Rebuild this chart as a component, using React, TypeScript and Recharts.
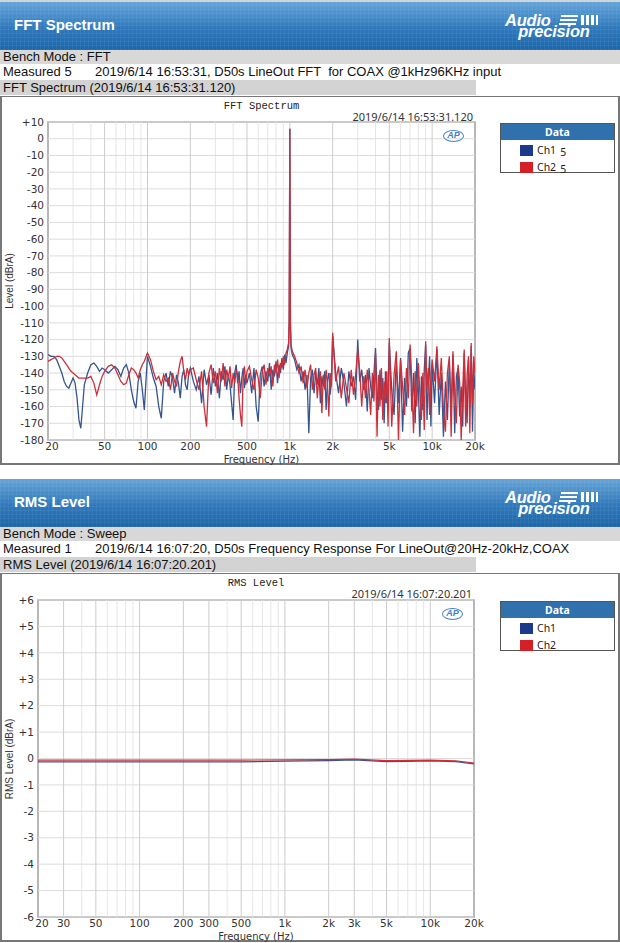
import React from 'react';
import { ComposedChart, Line, XAxis, YAxis, ReferenceLine, ReferenceArea } from 'recharts';

// ---------- FFT Spectrum data ----------
const fftFreq = [
  20, 21, 22, 23, 24, 25, 26, 27, 28, 29, 30, 31, 32, 33, 34, 35, 36,
  38, 40, 42, 44, 46, 48, 50,
  53, 56, 59, 62, 65, 68, 71, 74, 77, 80, 83, 86, 89, 92, 95, 98, 100,
  105, 110, 115, 120, 125, 130, 135, 140, 145, 150, 155, 160, 165, 170, 175, 180, 185, 190, 195, 200,
  210, 220, 230, 240, 250, 260, 270, 280, 290, 300, 310, 320, 330, 340, 350, 360, 370, 380, 390, 400,
  410, 420, 430, 440, 450, 460, 470, 480, 490, 500,
  520, 540, 560, 580, 600, 620, 640, 660, 680, 700, 720, 740, 760, 780, 800, 820, 840, 860, 880, 900, 920, 940,
  960, 980, 990, 1000, 1010, 1020, 1040,
  1080, 1120, 1160, 1200, 1240, 1280, 1320, 1360, 1400, 1440, 1480, 1520, 1560, 1600, 1640, 1680, 1720, 1760, 1800, 1840, 1880, 1920, 1960,
  2000,
  2100, 2200, 2300, 2400, 2500, 2600, 2700, 2800, 2900, 3000, 3100, 3200, 3300, 3400, 3500, 3600, 3700, 3800, 3900, 4000,
  4100, 4200, 4300, 4400, 4500, 4600, 4700, 4800, 4900,
  5000,
  5200, 5400, 5600, 5800, 6000, 6200, 6400, 6600, 6800, 7000, 7200, 7400, 7600, 7800, 8000, 8200, 8400, 8600, 8800, 9000,
  9200, 9400, 9600, 9800,
  10000,
  10400, 10800, 11200, 11600, 12000, 12400, 12800, 13200, 13600, 14000, 14400, 14800, 15200, 15600, 16000, 16400, 16800,
  17200, 17600, 18000, 18400, 18800, 19200, 19600,
  20000,
];

const fftCh1 = [
  -129, -130, -130, -132, -136, -140, -145, -148, -149, -146, -143, -146, -155, -168, -173, -160, -147,
  -140, -135, -134, -136, -139, -137, -138,
  -140, -138, -136, -138, -142, -137, -135, -140, -150, -157, -161, -145, -140, -150, -162, -142, -130,
  -136, -143, -148, -160, -167, -145, -140, -148, -139, -143, -152, -141, -146, -155, -142, -138, -147, -150, -140, -137,
  -145, -150, -142, -158, -138, -147, -141, -153, -137, -148, -140, -155, -139, -144, -136, -150, -141, -147, -158, -168,
  -140, -135, -146, -139, -152, -143, -137, -149, -141, -146,
  -140, -152, -137, -160, -169, -141, -136, -148, -139, -145, -134, -150, -138, -142, -133, -146, -135, -140, -131, -138, -129, -134,
  -128, -124, -110, 6, -112, -125, -129,
  -132, -138, -135, -145, -139, -150, -141, -176, -143, -138, -152, -140, -147, -137, -158, -142, -148, -139, -162, -144, -140, -153, -145,
  -118,
  -140, -152, -137, -146, -160, -139, -148, -142, -156, -120, -145, -138, -150, -141, -163, -137, -148, -155, -140, -125,
  -150, -162, -138, -156, -143, -170, -139, -158, -147,
  -122,
  -150, -165, -132, -158, -131, -175, -143, -160, -128, -125, -163, -140, -170, -131, -150, -178, -142, -162, -138, -123,
  -168, -145, -130, -172,
  -135,
  -158, -126, -165, -140, -178, -145, -168, -133, -160, -129, -176, -142, -137, -166, -148, -172, -128,
  -155, -170, -132, -160, -124, -175, -138,
  -150,
];

const fftCh2 = [
  -133, -132, -131, -130, -130, -131, -133, -135, -137, -139, -140, -141, -142, -143, -143, -143, -143,
  -143, -142, -146, -153, -147, -142, -139,
  -136, -135, -137, -141, -145, -147, -146, -141, -137, -138, -140, -143, -138, -135, -133, -130, -128,
  -132, -139, -144, -142, -147, -141, -145, -143, -150, -140, -145, -148, -139, -133, -130, -139, -144, -137, -141, -138,
  -137, -144, -150, -139, -160, -172, -140, -135, -146, -139, -152, -137, -145, -134, -148, -138, -143, -136, -149, -140,
  -146, -138, -141, -155, -165, -172, -142, -136, -147, -139,
  -136, -144, -150, -138, -143, -155, -139, -135, -147, -137, -142, -136, -148, -135, -140, -132, -143, -134, -137, -130, -135, -128,
  -126, -122, -108, 6, -110, -123, -127,
  -130, -134, -140, -136, -146, -138, -149, -140, -135, -150, -141, -137, -155, -143, -139, -164, -141, -150, -138, -147, -166, -140, -148,
  -116,
  -145, -136, -155, -140, -149, -158, -138, -153, -141, -126, -139, -160, -142, -155, -138, -150, -165, -140, -157, -128,
  -178, -141, -160, -137, -168, -145, -158, -139, -172,
  -119,
  -172, -141, -127, -180, -132, -148, -165, -137, -155, -123, -146, -176, -139, -160, -134, -152, -168, -140, -174, -121,
  -150, -137, -165, -143,
  -132,
  -145, -124, -150, -131, -162, -175, -140, -130, -178, -127, -152, -170, -135, -145, -180, -150, -126,
  -172, -141, -130, -176, -122, -158, -130,
  -140,
];

const fftXTicks = [20, 50, 100, 200, 500, 1000, 2000, 5000, 10000, 20000];
const fftMajorGrid = [50, 100, 200, 500, 1000, 2000, 5000, 10000];
const fftMinorGrid = [30, 40, 60, 70, 80, 90, 300, 400, 600, 700, 800, 900, 3000, 4000, 6000, 7000, 8000, 9000];
const fftYTicks = [10, 0, -10, -20, -30, -40, -50, -60, -70, -80, -90, -100, -110, -120, -130, -140, -150, -160, -170, -180];

// ---------- RMS Level data ----------
const rmsFreq = [20, 30, 50, 100, 200, 500, 1000, 2000, 3000, 5000, 7000, 10000, 15000, 20000];
const rmsCh1 = [-0.13, -0.13, -0.13, -0.13, -0.13, -0.13, -0.1, -0.08, -0.05, -0.12, -0.11, -0.09, -0.12, -0.2];
const rmsCh2 = [-0.06, -0.06, -0.06, -0.06, -0.06, -0.06, -0.05, -0.04, -0.02, -0.08, -0.07, -0.06, -0.09, -0.17];

const rmsXTicks = [20, 30, 50, 100, 200, 300, 500, 1000, 2000, 3000, 5000, 10000, 20000];
const rmsMajorGrid = [30, 50, 100, 200, 300, 500, 1000, 2000, 3000, 5000, 10000];
const rmsMinorGrid = [40, 60, 70, 80, 90, 400, 600, 700, 800, 900, 4000, 6000, 7000, 8000, 9000];
const rmsYTicks = [6, 5, 4, 3, 2, 1, 0, -1, -2, -3, -4, -5, -6];

const fftData = fftFreq.map((f, i) => ({ f, ch1: fftCh1[i], ch2: fftCh2[i] }));
const rmsData = rmsFreq.map((f, i) => ({ f, ch1: rmsCh1[i], ch2: rmsCh2[i] }));

const FONT_UI = '"Liberation Sans", Arial, sans-serif';
const FONT_AX = '"DejaVu Sans", Verdana, sans-serif';
const BLUE = '#34558f';
const RED = '#cc2f3a';

const fmtFreq = (v: number) => (v >= 1000 ? `${v / 1000}k` : `${v}`);
const fmtLevel = (v: number) => (v > 0 ? `+${v}` : `${v}`);

const XTick = (props: any) => {
  const { x, y, payload, index } = props;
  const dx = index === 0 ? 4 : 0;
  return (
    <text x={x + dx} y={y} dy="0.71em" textAnchor="middle" fontSize={10.5} fill="#333" fontFamily={FONT_AX}>
      {fmtFreq(payload.value)}
    </text>
  );
};

type PlotProps = {
  data: any[];
  xTicks: number[];
  majorGrid: number[];
  minorGrid: number[];
  yTicks: number[];
  yDomain: [number, number];
  yWidth: number;
  marginTop: number;
  marginRight: number;
  lineWidth: number;
};

function Plot({ data, xTicks, majorGrid, minorGrid, yTicks, yDomain, yWidth, marginTop, marginRight, lineWidth }: PlotProps) {
  return (
    <ComposedChart width={620} height={369} data={data} margin={{ top: marginTop, right: marginRight, bottom: 0, left: 0 }}>
      <XAxis
        dataKey="f"
        type="number"
        scale="log"
        domain={[20, 20000]}
        ticks={xTicks}
        interval={0}
        tickLine={false}
        axisLine={false}
        tickSize={0}
        tickMargin={3}
        height={25}
        tick={XTick}
        allowDataOverflow
      />
      <YAxis
        type="number"
        domain={yDomain}
        ticks={yTicks}
        interval={0}
        tickFormatter={fmtLevel}
        tickLine={false}
        axisLine={false}
        tickSize={0}
        tickMargin={4}
        width={yWidth}
        tick={{ fontSize: 10.5, fill: '#333', fontFamily: FONT_AX }}
        allowDataOverflow
      />
      {minorGrid.map((f) => (
        <ReferenceLine key={'mi' + f} x={f} stroke="#e6e6e6" strokeWidth={1} />
      ))}
      {yTicks.map((v) => (
        <ReferenceLine key={'h' + v} y={v} stroke="#dcdcdc" strokeWidth={1} />
      ))}
      {majorGrid.map((f) => (
        <ReferenceLine key={'ma' + f} x={f} stroke="#cccccc" strokeWidth={1} />
      ))}
      <Line dataKey="ch1" type="linear" stroke={BLUE} strokeWidth={lineWidth} dot={false} isAnimationActive={false} />
      <Line dataKey="ch2" type="linear" stroke={RED} strokeWidth={lineWidth} dot={false} isAnimationActive={false} />
      <ReferenceArea x1={20} x2={20000} y1={yDomain[0]} y2={yDomain[1]} fill="none" stroke="#a0a0a0" strokeWidth={1.5} />
    </ComposedChart>
  );
}

function Logo() {
  const bar = (l: number, t: number, w: number, h: number) => (
    <div style={{ position: 'absolute', left: l, top: t, width: w, height: h, background: '#fff' }} />
  );
  return (
    <div style={{ position: 'absolute', left: 500, top: 0, width: 110, height: 48 }}>
      <div style={{ position: 'absolute', left: 5, top: 13, color: '#fff', fontFamily: FONT_UI, fontStyle: 'italic', fontWeight: 'bold', fontSize: 16.5, lineHeight: '10.5px', whiteSpace: 'pre', letterSpacing: -0.2 }}>{'Audio\n   precision'}</div>
      {bar(61, 13, 17, 2)}
      {bar(60, 17, 17, 2)}
      {bar(59, 21, 17, 2)}
      {bar(81, 13, 3, 10)}
      {bar(86, 13, 3, 10)}
      {bar(91, 13, 2.5, 10)}
      {bar(95.5, 13, 2, 10)}
    </div>
  );
}

function ApBadge({ left, top }: { left: number; top: number }) {
  return (
    <div style={{ position: 'absolute', left, top, width: 21, height: 12, border: '1.5px solid #3f7fc4', borderRadius: '50%', boxSizing: 'border-box', color: '#3f7fc4', fontFamily: FONT_UI, fontStyle: 'italic', fontWeight: 'bold', fontSize: 9, lineHeight: '9px', textAlign: 'center' }}>AP</div>
  );
}

function LegendBox({ left, top, width, height, suffix }: { left: number; top: number; width: number; height: number; suffix: string }) {
  const row = (label: string, color: string, y: number) => (
    <div style={{ position: 'absolute', left: 19, top: y, height: 12, display: 'flex', alignItems: 'center' }}>
      <div style={{ width: 13, height: 11, background: color, marginRight: 4 }} />
      <span style={{ fontFamily: '"Noto Sans", sans-serif', fontSize: 10.5, color: '#222', lineHeight: '12px' }}>
        {label}
        {suffix ? <span style={{ position: 'relative', top: 2, marginLeft: 4 }}>{suffix}</span> : null}
      </span>
    </div>
  );
  return (
    <div style={{ position: 'absolute', left, top, width, height, border: '1.5px solid #555', boxSizing: 'border-box', background: '#fff' }}>
      <div style={{ height: 16, background: '#2f70ad', color: '#fff', fontFamily: '"Noto Sans", sans-serif', fontWeight: 'bold', fontSize: 10.5, lineHeight: '16px', textAlign: 'center' }}>Data</div>
      {row('Ch1', '#1b3a8c', 20)}
      {row('Ch2', '#d42027', 37)}
    </div>
  );
}

type PanelProps = {
  y0: number;
  title: string;
  bench: string;
  measuredId: string;
  measuredText: string;
  barText: string;
  chartTitle: string;
  stamp: string;
  yLabel: string;
  suffix: string;
  marginTop: number;
  plotLeft: number;
  plotRight: number;
  children: React.ReactNode;
};

function Panel(p: PanelProps) {
  const plotTop = p.y0 + 96 + p.marginTop;
  const plotBottom = p.y0 + 96 + 369 - 25;
  const cx = (p.plotLeft + p.plotRight) / 2;
  const cy = (plotTop + plotBottom) / 2;
  return (
    <>
      <div
        style={{
          position: 'absolute', left: 0, top: p.y0 + 2, width: 620, height: 48,
          backgroundImage:
            'repeating-linear-gradient(90deg, rgba(255,255,255,0.05) 0px, rgba(255,255,255,0.05) 1px, transparent 1px, transparent 4px), repeating-linear-gradient(0deg, rgba(255,255,255,0.05) 0px, rgba(255,255,255,0.05) 1px, transparent 1px, transparent 4px), linear-gradient(#64a4d8, #2f78bb 55%, #1d66a8)',
        }}
      >
        <div style={{ position: 'absolute', left: 14, top: 14, color: '#fff', fontFamily: FONT_UI, fontWeight: 'bold', fontSize: 15, lineHeight: '18px' }}>{p.title}</div>
        <Logo />
      </div>
      <div style={{ position: 'absolute', left: 0, top: p.y0 + 50, width: 620, height: 14, background: '#d8d8d8' }}>
        <div style={{ position: 'absolute', left: 3, top: 0, fontFamily: FONT_UI, fontSize: 13, lineHeight: '14px', color: '#111' }}>{p.bench}</div>
      </div>
      <div style={{ position: 'absolute', left: 3, top: p.y0 + 64, fontFamily: FONT_UI, fontSize: 13, lineHeight: '16px', color: '#111', whiteSpace: 'pre' }}>{p.measuredId}</div>
      <div style={{ position: 'absolute', left: 95, top: p.y0 + 64, fontFamily: FONT_UI, fontSize: 13, lineHeight: '16px', color: '#111', whiteSpace: 'pre' }}>{p.measuredText}</div>
      <div style={{ position: 'absolute', left: 0, top: p.y0 + 80, width: 476, height: 15, background: '#d3d3d3' }}>
        <div style={{ position: 'absolute', left: 3, top: 0, fontFamily: FONT_UI, fontSize: 13, lineHeight: '15px', color: '#111', whiteSpace: 'nowrap' }}>{p.barText}</div>
      </div>
      <div style={{ position: 'absolute', left: 0, top: p.y0 + 96, width: 620, height: 369, border: '2px solid #777', borderTopWidth: 1.5, boxSizing: 'border-box', background: '#fff' }} />
      <div style={{ position: 'absolute', left: 0, top: p.y0 + 96, width: 620, height: 369 }}>{p.children}</div>
      <div style={{ position: 'absolute', left: cx - 60, width: 120, top: p.y0 + 101, textAlign: 'center', fontFamily: '"Liberation Mono", monospace', fontSize: 10.5, lineHeight: '11px', color: '#222' }}>{p.chartTitle}</div>
      <div style={{ position: 'absolute', left: p.plotRight - 200, width: 198, top: p.y0 + 110, textAlign: 'right', fontFamily: '"Noto Sans", sans-serif', fontSize: 11, lineHeight: '14px', color: '#333' }}>{p.stamp}</div>
      <ApBadge left={p.plotRight - 32} top={plotTop + 8} />
      <LegendBox left={500} top={plotTop + 1} width={115} height={50} suffix={p.suffix} />
      <div style={{ position: 'absolute', left: 10 - 60, width: 120, top: cy - 6, height: 12, textAlign: 'center', transform: 'rotate(-90deg)', fontFamily: FONT_UI, fontSize: 10, lineHeight: '12px', color: '#333', whiteSpace: 'nowrap' }}>{p.yLabel}</div>
      <div style={{ position: 'absolute', left: cx - 60, width: 120, top: plotBottom + 14, textAlign: 'center', fontFamily: FONT_AX, fontSize: 10, lineHeight: '11px', color: '#333' }}>Frequency (Hz)</div>
    </>
  );
}

export default function App() {
  return (
    <div style={{ position: 'absolute', left: 0, top: 0, width: 620, height: 943, background: '#fff', overflow: 'hidden' }}>
      <div style={{ position: 'absolute', left: 0, top: 0, width: 620, height: 2, background: '#cdd6de' }} />
      <Panel
        y0={0}
        title="FFT Spectrum"
        bench="Bench Mode : FFT"
        measuredId="Measured 5"
        measuredText="2019/6/14 16:53:31, D50s LineOut FFT  for COAX @1kHz96KHz input"
        barText="FFT Spectrum (2019/6/14 16:53:31.120)"
        chartTitle="FFT Spectrum"
        stamp="2019/6/14 16:53:31.120"
        yLabel="Level (dBrA)"
        suffix="5"
        marginTop={26}
        plotLeft={48}
        plotRight={475}
      >
        <Plot data={fftData} xTicks={fftXTicks} majorGrid={fftMajorGrid} minorGrid={fftMinorGrid} yTicks={fftYTicks} yDomain={[-180, 10]} yWidth={48} marginTop={26} marginRight={145} lineWidth={1.3} />
      </Panel>
      <Panel
        y0={477}
        title="RMS Level"
        bench="Bench Mode : Sweep"
        measuredId="Measured 1"
        measuredText="2019/6/14 16:07:20, D50s Frequency Response For LineOut@20Hz-20kHz,COAX"
        barText="RMS Level (2019/6/14 16:07:20.201)"
        chartTitle="RMS Level"
        stamp="2019/6/14 16:07:20.201"
        yLabel="RMS Level (dBrA)"
        suffix=""
        marginTop={27}
        plotLeft={38}
        plotRight={474}
      >
        <Plot data={rmsData} xTicks={rmsXTicks} majorGrid={rmsMajorGrid} minorGrid={rmsMinorGrid} yTicks={rmsYTicks} yDomain={[-6, 6]} yWidth={38} marginTop={27} marginRight={146} lineWidth={1.2} />
      </Panel>
    </div>
  );
}
